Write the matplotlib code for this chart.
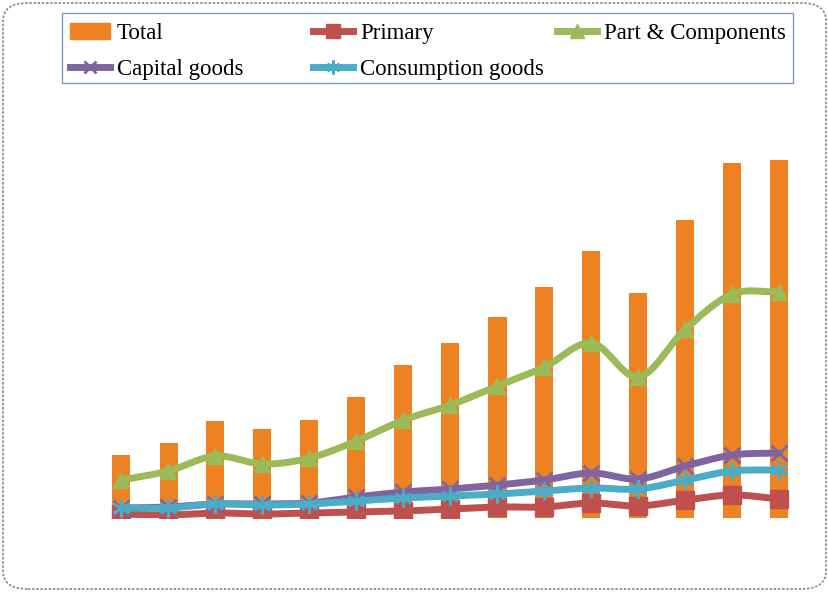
import numpy as np
import matplotlib
matplotlib.use("Agg")
import matplotlib.pyplot as plt
from matplotlib.patches import FancyBboxPatch, Rectangle, Patch
from matplotlib.lines import Line2D

years = list(range(15))
total = [63, 75, 97, 89, 98, 121, 153, 175, 201, 231, 267, 225, 298, 355, 358]
parts = [38, 47, 62, 54, 60, 77, 98, 113, 132, 151, 175, 141, 189, 224, 226]
capital = [10, 11, 14, 14, 15, 21, 26, 29, 33, 38, 45, 39, 52, 63, 65]
consumption = [10, 10, 14, 13, 14, 17, 20, 22, 24, 27, 30, 29, 38, 47, 48]
primary = [4, 3, 5, 4, 5, 6, 7, 9, 11, 11, 15, 12, 18, 23, 19]

plt.rcParams['font.family'] = ['Liberation Serif', 'DejaVu Serif']

fig = plt.figure(figsize=(8.29, 5.92), dpi=100)
W, H = 829, 592
ax = fig.add_axes([98 / W, (H - 518) / H, 705 / W, 400 / H])
ax.set_xlim(-0.5, 14.5)
ax.set_ylim(0, 400)
ax.axis('off')


def smooth(x, y, n=20):
    x = np.asarray(x, float)
    y = np.asarray(y, float)
    px = np.concatenate([[2 * x[0] - x[1]], x, [2 * x[-1] - x[-2]]])
    py = np.concatenate([[2 * y[0] - y[1]], y, [2 * y[-1] - y[-2]]])
    xs, ys = [], []
    t = np.linspace(0, 1, n, endpoint=False)
    for i in range(1, len(px) - 2):
        p0, p1, p2, p3 = [np.array([px[j], py[j]]) for j in range(i - 1, i + 3)]
        tt = t[:, None]
        pts = 0.5 * ((2 * p1) + (-p0 + p2) * tt + (2 * p0 - 5 * p1 + 4 * p2 - p3) * tt ** 2
                     + (-p0 + 3 * p1 - 3 * p2 + p3) * tt ** 3)
        xs.extend(pts[:, 0]); ys.extend(pts[:, 1])
    xs.append(x[-1]); ys.append(y[-1])
    return np.array(xs), np.array(ys)


orange = '#EE8222'
red = '#C0504D'
green = '#9BBB59'
purple = '#8064A2'
teal = '#4BACC6'

ax.bar(years, total, width=18 / 47, color=orange, zorder=1)

series = [
    (primary, red, 's', 13, 'Primary'),
    (capital, purple, 'x', 11, 'Capital goods'),
    (consumption, teal, (6, 2, 0), 13, 'Consumption goods'),
    (parts, green, '^', 12, 'Part & Components'),
]
for i, (vals, col, mk, ms, lab) in enumerate(series):
    sx, sy = smooth(years, vals)
    ax.plot(sx, sy, color=col, lw=5, solid_capstyle='round', zorder=2 + i)
    ax.plot(years, vals, linestyle='none', marker=mk, markersize=ms,
            color=col, markeredgecolor=col,
            markeredgewidth=2 if mk in ('x', (6, 2, 0)) else 1,
            zorder=2 + i)

h_total = Patch(color=orange, label='Total')
h_cap = Line2D([], [], color=purple, lw=5, marker='x', ms=9, mew=2, label='Capital goods')
h_pri = Line2D([], [], color=red, lw=5, marker='s', ms=10, label='Primary')
h_con = Line2D([], [], color=teal, lw=5, marker=(6, 2, 0), ms=10, mew=2, label='Consumption goods')
h_par = Line2D([], [], color=green, lw=5, marker='^', ms=10, label='Part & Components')

columns = [([h_total, h_cap], 70), ([h_pri, h_con], 313), ([h_par], 557)]
for hs, x0 in columns:
    fig.legend(handles=hs, loc='upper left', bbox_to_anchor=(x0 / W, 1 - 23 / H),
               frameon=False, prop={'size': 16.5}, handlelength=1.75,
               handletextpad=0.3, borderpad=0, borderaxespad=0,
               labelspacing=0.66)

fig.patches.append(Rectangle((62 / W, 1 - 83 / H), (793 - 62) / W, 70 / H,
                             transform=fig.transFigure, fill=False,
                             edgecolor='#7F9DB9', linewidth=1.0))

border = FancyBboxPatch((3 / W, 3 / H), 823 / W, 586 / H,
                        boxstyle='round,pad=0,rounding_size=0.03',
                        transform=fig.transFigure, fill=False,
                        edgecolor='#888888', linewidth=1.2, linestyle=(0, (1.5, 1)))
fig.patches.append(border)

fig.savefig('out.png', dpi=100)
